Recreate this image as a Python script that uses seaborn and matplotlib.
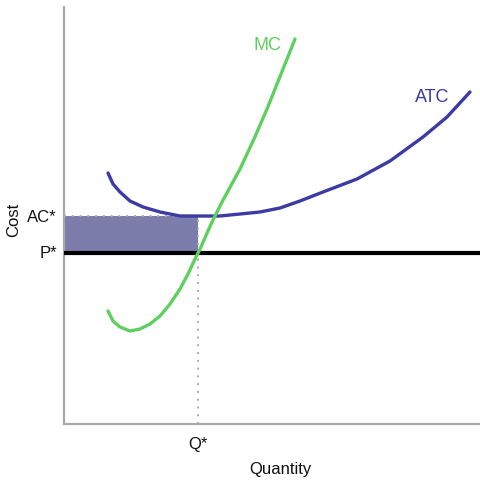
import matplotlib
matplotlib.use("Agg")
import matplotlib.pyplot as plt
import seaborn as sns
import pandas as pd

# Data (quantity, cost) in arbitrary units
mc_q = [44, 49, 56, 66, 76, 86, 96, 106, 116, 124, 131, 136, 148, 158, 176, 190, 203, 219, 231]
mc_c = [113, 103, 97, 93, 95, 100, 108, 120, 135, 150, 165, 175, 202, 222, 255, 285, 315, 355, 385]
atc_q = [44, 49, 56, 66, 79, 96, 116, 136, 156, 176, 196, 216, 236, 259, 293, 326, 359, 383, 406]
atc_c = [251, 240, 232, 223, 217, 212, 208, 208, 208, 210, 212, 216, 223, 232, 245, 263, 287, 307, 332]
p_star = 171
ac_star = 208
q_star = 134
tick_labels = {"AC": "AC*", "P": "P*", "Q": "Q*"}
curve_names = ["MC", "ATC"]

sns.set_style("white")
plt.rcParams["font.family"] = ["Liberation Sans", "DejaVu Sans"]

fig = plt.figure(figsize=(4.8, 4.81), dpi=100)
ax = fig.add_axes([64/480, 56/481, 416/480, 417/481])

# loss rectangle
ax.fill_between([0, q_star], [p_star, p_star], [ac_star, ac_star],
                color="#7d7dab", linewidth=0, zorder=1)
# dotted guides
ax.plot([0, q_star], [ac_star, ac_star], linestyle=(0, (1, 3)), color="#aaaaaa", lw=1.4, zorder=2)
ax.plot([q_star, q_star], [0, ac_star], linestyle=(0, (1, 3)), color="#aaaaaa", lw=1.4, zorder=2)
# price line
ax.axhline(p_star, color="black", lw=3.0, zorder=3)

mc = pd.DataFrame({"q": mc_q, "c": mc_c})
atc = pd.DataFrame({"q": atc_q, "c": atc_c})
sns.lineplot(data=atc, x="q", y="c", sort=False, color="#3b3ba3", lw=2.4, ax=ax, zorder=4)
sns.lineplot(data=mc, x="q", y="c", sort=False, color="#5fd05f", lw=2.4, ax=ax, zorder=5)
for ln in ax.lines:
    ln.set_solid_capstyle("round")
    ln.set_solid_joinstyle("round")

ax.set_xlim(0, 416)
ax.set_ylim(0, 417)
ax.set_xticks([])
ax.set_yticks([])
ax.set_xlabel("")
ax.set_ylabel("")
for s in ["top", "right"]:
    ax.spines[s].set_visible(False)
for s in ["left", "bottom"]:
    ax.spines[s].set_color("#a8a8a8")
    ax.spines[s].set_linewidth(1.6)

fs = 12
tc = "#111111"
ax.text(-7, ac_star, tick_labels["AC"], ha="right", va="center", fontsize=fs, color=tc, clip_on=False)
ax.text(-7, p_star, tick_labels["P"], ha="right", va="center", fontsize=fs, color=tc, clip_on=False)
ax.text(q_star, -20, tick_labels["Q"], ha="center", va="center", fontsize=fs, color=tc, clip_on=False)
ax.text(216, -45, "Quantity", ha="center", va="center", fontsize=fs, color=tc, clip_on=False)
ax.text(-50, 205, "Cost", ha="center", va="center", rotation=90, fontsize=fs, color=tc, clip_on=False)
ax.text(203, 380, curve_names[0], ha="center", va="center", fontsize=13, color="#5fd05f")
ax.text(368, 327, curve_names[1], ha="center", va="center", fontsize=13, color="#3b3ba3")

fig.savefig("out.png", dpi=100)
